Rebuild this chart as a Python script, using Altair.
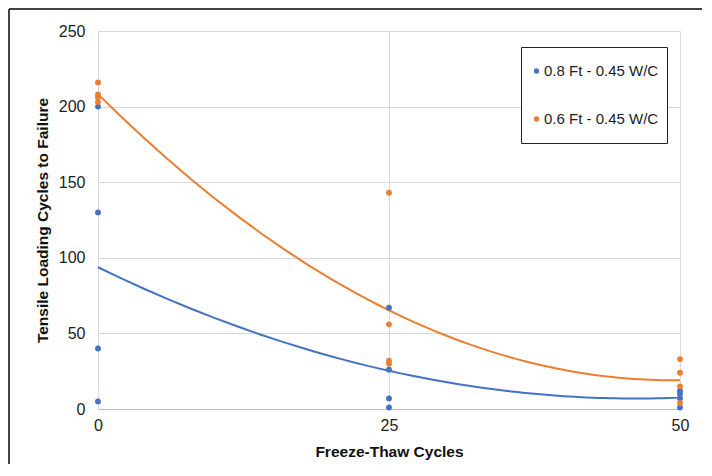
import altair as alt
import pandas as pd

series_names = ["0.8 Ft - 0.45 W/C", "0.6 Ft - 0.45 W/C"]
colors = ["#4472C4", "#ED7D31"]

blue_x = [0, 0, 0, 0, 25, 25, 25, 25, 50, 50, 50, 50]
blue_y = [200, 130, 40, 5, 67, 26, 7, 1, 12, 10, 7, 1]
orange_x = [0, 0, 0, 0, 25, 25, 25, 25, 50, 50, 50, 50]
orange_y = [216, 208, 206, 203, 143, 56, 32, 30, 33, 24, 15, 4]

x_ticks = [0, 25, 50]
y_ticks = [0, 50, 100, 150, 200, 250]

rows = []
for x, y in zip(blue_x, blue_y):
    rows.append({"ft": x, "cycles": y, "series": series_names[0]})
for x, y in zip(orange_x, orange_y):
    rows.append({"ft": x, "cycles": y, "series": series_names[1]})
df = pd.DataFrame(rows)

W, H = 582, 378

color_scale = alt.Scale(domain=series_names, range=colors)
x_enc = alt.X("ft:Q", title="Freeze-Thaw Cycles",
              scale=alt.Scale(domain=[0, 50], nice=False),
              axis=alt.Axis(values=x_ticks, labelPadding=8, titlePadding=11,
                            labelFlush=False, domainColor="#bfbfbf", ticks=False))
y_enc = alt.Y("cycles:Q", title="Tensile Loading Cycles to Failure",
              scale=alt.Scale(domain=[0, 250], nice=False),
              axis=alt.Axis(values=y_ticks, labelPadding=13, titlePadding=8,
                            domain=False, ticks=False))

points = alt.Chart(df).mark_circle(size=34, opacity=1).encode(
    x=x_enc, y=y_enc,
    color=alt.Color("series:N", scale=color_scale, title=None,
                    legend=alt.Legend(orient="none", legendX=423, legendY=16,
                                      fillColor="white", strokeColor="#222",
                                      padding=8, rowPadding=16, clipHeight=32,
                                      symbolSize=28, symbolType="circle",
                                      symbolStrokeWidth=0,
                                      labelFontSize=15, labelOffset=0,
                                      labelFont="Liberation Sans",
                                      labelColor="#222")),
)

line_layers = []
for name, col in zip(series_names, colors):
    line_layers.append(
        alt.Chart(df).transform_filter(alt.datum.series == name).transform_regression(
            "ft", "cycles", method="poly", order=2, extent=[0, 50]
        ).mark_line(strokeWidth=2, color=col).encode(x="ft:Q", y="cycles:Q")
    )

frame_top = alt.Chart(pd.DataFrame({"a": [0]})).mark_rule(color="#444", strokeWidth=2).encode(
    x=alt.value(-89), x2=alt.value(W + 300), y=alt.value(-22))
frame_left = alt.Chart(pd.DataFrame({"a": [0]})).mark_rule(color="#444", strokeWidth=2).encode(
    x=alt.value(-89), y=alt.value(-22), y2=alt.value(H + 300))

chart = alt.layer(frame_top, frame_left, *line_layers, points).properties(
    width=W, height=H,
    autosize=alt.AutoSizeParams(type="none"),
    padding={"left": 90, "top": 23, "right": 22, "bottom": 55},
).configure_view(stroke=None).configure_axis(
    grid=True, gridColor="#d9d9d9", gridWidth=1,
    labelFont="Liberation Sans", labelFontSize=16, labelColor="#222",
    titleFont="Liberation Sans", titleFontSize=15.5, titleFontWeight="bold", titleColor="#111",
)

chart.save("out.html", embed_options={"renderer": "svg", "actions": False})
